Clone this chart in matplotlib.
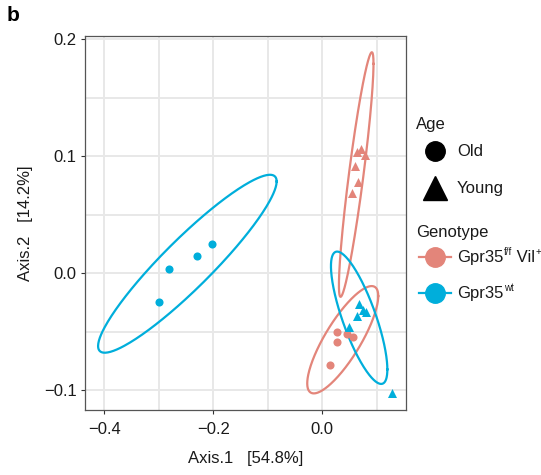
import numpy as np
import matplotlib
matplotlib.use("Agg")
import matplotlib.pyplot as plt
from matplotlib.lines import Line2D

plt.rcParams['font.family'] = ['Liberation Sans', 'DejaVu Sans']
plt.rcParams['mathtext.default'] = 'regular'

# ---- data ----
axis1 = [-0.2024, -0.2305, -0.2818, -0.2991,              # wt, old
         0.0679, 0.0747, 0.0631, 0.0802, 0.0495, 0.1273,   # wt, young
         0.0275, 0.0264, 0.0448, 0.0558, 0.0147,           # ff, old
         0.0642, 0.0705, 0.0783, 0.0594, 0.0661, 0.0539]   # ff, young
axis2 = [0.0252, 0.0149, 0.0038, -0.0247,
         -0.0267, -0.0316, -0.0367, -0.0330, -0.0464, -0.1023,
         -0.0501, -0.0592, -0.0521, -0.0544, -0.0786,
         0.1039, 0.1059, 0.1010, 0.0916, 0.0777, 0.0688]
age = ['Old'] * 4 + ['Young'] * 6 + ['Old'] * 5 + ['Young'] * 6
genotype = ['wt'] * 10 + ['ff'] * 11

# ellipse summaries per group (centre, half-extent, correlation)
ell_genotype = ['ff', 'ff', 'wt', 'wt']
ell_age = ['Old', 'Young', 'Old', 'Young']
ell_cx = [0.0376, 0.0623, -0.2473, 0.0677]
ell_cy = [-0.0570, 0.0843, 0.0080, -0.0382]
ell_hx = [0.0651, 0.0317, 0.1637, 0.0517]
ell_hy = [0.0459, 0.1046, 0.0761, 0.0566]
ell_rho = [0.814, 0.905, 0.925, -0.78]

x_ticks = [-0.4, -0.2, 0.0]
y_ticks = [-0.1, 0.0, 0.1, 0.2]
x_label = 'Axis.1   [54.8%]'
y_label = 'Axis.2   [14.2%]'

age_levels = ['Old', 'Young']
geno_levels = ['ff', 'wt']
colors = {'ff': '#E3857A', 'wt': '#00AEDB'}
markers = {'Old': 'o', 'Young': '^'}
# label pieces: (text, is_superscript)
geno_labels = {'ff': [('Gpr35', False), ('f/f', True), (' Vil', False), ('+', True)],
               'wt': [('Gpr35', False), ('wt', True)]}

W, H = 541, 475
fig = plt.figure(figsize=(W / 100, H / 100), dpi=100)
ax = fig.add_axes([85 / W, 1 - 410 / H, (406 - 85) / W, (410 - 36) / H])

ax.set_xlim(-0.435, 0.1536)
ax.set_ylim(-0.1171, 0.2028)

# grid (major + minor)
ax.set_xticks(x_ticks)
ax.set_yticks(y_ticks)
ax.set_xticks([-0.3, -0.1, 0.1], minor=True)
ax.set_yticks([-0.05, 0.05, 0.15], minor=True)
ax.grid(True, which='both', color='#E8E8E8', linewidth=1.4)
ax.set_axisbelow(True)
ax.tick_params(which='minor', length=0)
ax.tick_params(which='major', length=3, width=0.8, color='#333333',
               labelsize=12, labelcolor='#1a1a1a', pad=3)
ax.tick_params(axis='x', which='major', pad=6)
ax.set_xticklabels(['\u22120.4', '\u22120.2', '0.0'])
ax.set_yticklabels(['\u22120.1', '0.0', '0.1', '0.2'])
for s in ax.spines.values():
    s.set_color('#555555')
    s.set_linewidth(0.9)

# ellipses
t = np.linspace(0, 2 * np.pi, 300)
for g, a, cx, cy, hx, hy, r in zip(ell_genotype, ell_age, ell_cx, ell_cy,
                                   ell_hx, ell_hy, ell_rho):
    cov = np.array([[hx * hx, r * hx * hy], [r * hx * hy, hy * hy]])
    L = np.linalg.cholesky(cov)
    pts = L @ np.vstack([np.cos(t), np.sin(t)])
    ax.plot(cx + pts[0], cy + pts[1], color=colors[g], lw=1.6, zorder=3)

# points
x = np.array(axis1)
y = np.array(axis2)
ag = np.array(age)
gt = np.array(genotype)
for g in geno_levels:
    for a in age_levels:
        m = (gt == g) & (ag == a)
        ax.scatter(x[m], y[m], marker=markers[a], color=colors[g],
                   s=34 if a == 'Old' else 42, linewidths=0, zorder=4)

ax.set_xlabel(x_label, fontsize=12, labelpad=10, color='#1a1a1a')
ax.set_ylabel(y_label, fontsize=12, labelpad=8, color='#1a1a1a')


# ---- legends (placed in pixel layout) ----
def fx(px):
    return px / W


def fy(py):
    return 1 - py / H


tc = '#1a1a1a'
renderer = fig.canvas.get_renderer()

fig.text(fx(416), fy(125), 'Age', fontsize=12, va='center', ha='left', color=tc)
age_rows = [151, 188]
age_sizes = {'Old': 14, 'Young': 17}
for a, py in zip(age_levels, age_rows):
    fig.add_artist(Line2D([fx(435)], [fy(py)], transform=fig.transFigure,
                          marker=markers[a], markersize=age_sizes[a],
                          color='black', linestyle='none'))
    fig.text(fx(457), fy(py), a, fontsize=12, va='center', ha='left', color=tc)

fig.text(fx(416), fy(233), 'Genotype', fontsize=12, va='center', ha='left', color=tc)
geno_rows = [257, 293]
for g, py in zip(geno_levels, geno_rows):
    fig.add_artist(Line2D([fx(419), fx(451)], [fy(py), fy(py)],
                          transform=fig.transFigure, color=colors[g], lw=1.6))
    fig.add_artist(Line2D([fx(435)], [fy(py)], transform=fig.transFigure,
                          marker='o', markersize=14, color=colors[g],
                          linestyle='none'))
    px = 457
    base = py + 5  # baseline in pixels
    for piece, sup in geno_labels[g]:
        if sup:
            tx = fig.text(fx(px + 0.5), fy(base - 7), piece, fontsize=7,
                          va='baseline', ha='left', color=tc)
        else:
            tx = fig.text(fx(px), fy(base), piece, fontsize=12,
                          va='baseline', ha='left', color=tc)
        bb = tx.get_window_extent(renderer)
        px = px + bb.width + (0.5 if sup else 0)

fig.text(fx(7), fy(6), 'b', fontsize=15, fontweight='bold', va='top', ha='left')

fig.savefig('out.png', dpi=100)
